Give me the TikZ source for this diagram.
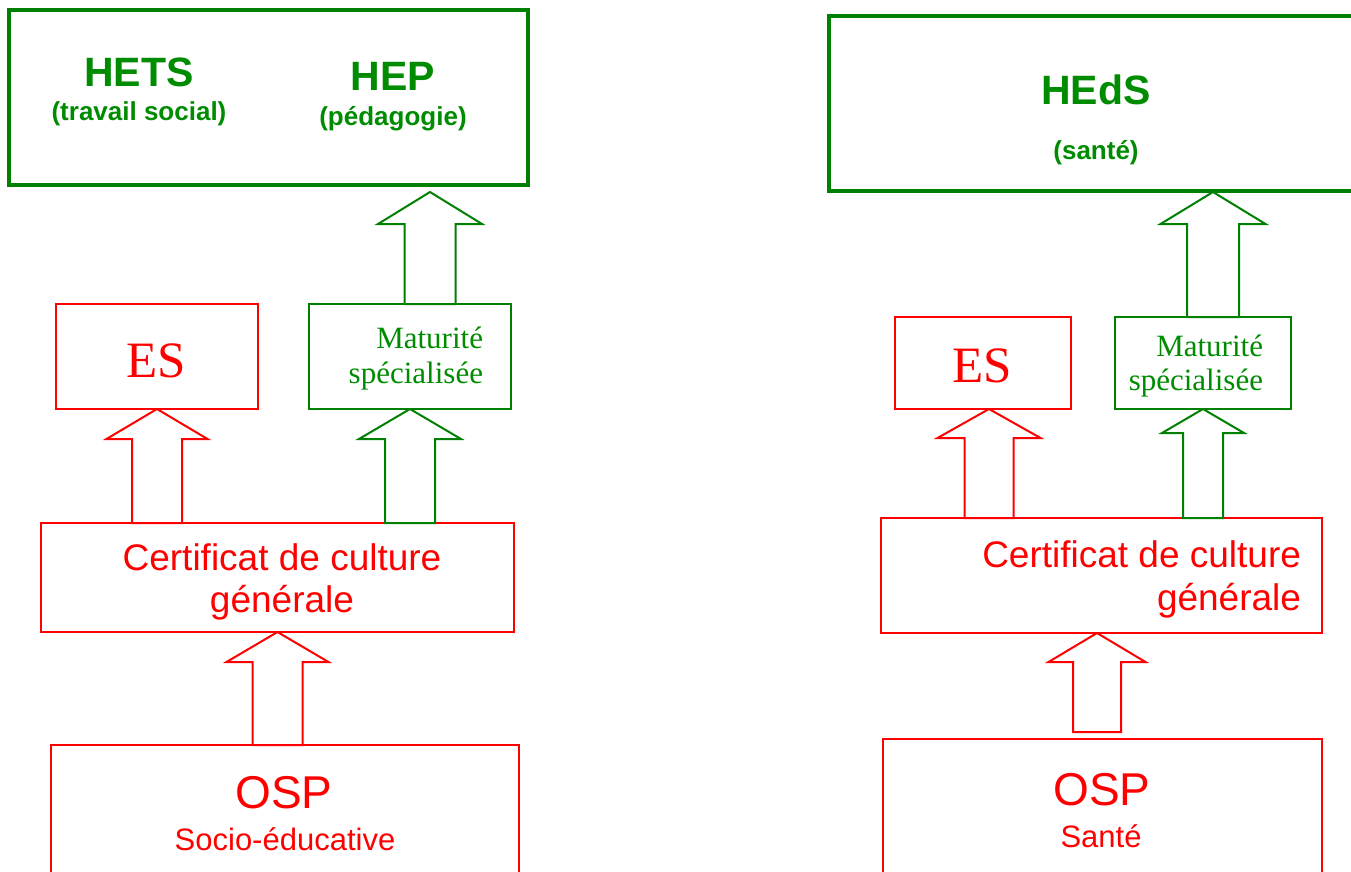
\documentclass[tikz,border=0pt]{standalone}
\usepackage{fontspec}
\setmainfont{Liberation Serif}
\setsansfont{Liberation Sans}
\usetikzlibrary{calc}
\definecolor{boxred}{RGB}{255,0,0}
\definecolor{boxgreen}{RGB}{0,128,0}
\definecolor{txtgreen}{RGB}{0,140,0}
\tikzset{
  box/.style={rectangle, inner sep=0pt, outer sep=0pt, draw},
  redbox/.style={box, draw=boxred, line width=2pt},
  greenbox/.style={box, draw=boxgreen, line width=2pt},
  topbox/.style={box, draw=boxgreen, line width=4pt},
  redarrow/.style={draw=boxred, line width=2pt, fill=white, line join=miter},
  greenarrow/.style={draw=boxgreen, line width=2pt, fill=white, line join=miter},
  lbl/.style={inner sep=0pt, outer sep=0pt, anchor=base},
  lble/.style={inner sep=0pt, outer sep=0pt, anchor=base east},
}
% #1 style, #2 bottom point, #3 tip point, #4 shaft half width, #5 head half width, #6 head length
\newcommand\blockarr[6]{%
  \draw[#1] let \p1=#2, \p2=#3 in
    (\x2-#4pt,\y1) -- (\x2-#4pt,\y2-#6pt) -- (\x2-#5pt,\y2-#6pt) -- (\x2,\y2)
    -- (\x2+#5pt,\y2-#6pt) -- (\x2+#4pt,\y2-#6pt) -- (\x2+#4pt,\y1) -- cycle;}
\begin{document}
\begin{tikzpicture}[x=1pt,y=-1pt]
\useasboundingbox (0,0) rectangle (1351,872);
\clip (0,0) rectangle (1351,872);
\fill[white] (0,0) rectangle (1351,872);

% boxes
\node[topbox, minimum width=519pt, minimum height=175pt] (topL) at (268.5,97.5) {};
\node[topbox, minimum width=600pt, minimum height=175pt] (topR) at (1129,103.5) {};
\node[redbox, minimum width=202pt, minimum height=105pt] (esL) at (157,356.5) {};
\node[greenbox, minimum width=202pt, minimum height=105pt] (matL) at (410,356.5) {};
\node[redbox, minimum width=473pt, minimum height=109pt] (ccgL) at (277.5,577.5) {};
\node[redbox, minimum width=468pt, minimum height=155pt] (ospL) at (285,822.5) {};
\node[redbox, minimum width=176pt, minimum height=92pt] (esR) at (983,363) {};
\node[greenbox, minimum width=176pt, minimum height=92pt] (matR) at (1203,363) {};
\node[redbox, minimum width=441pt, minimum height=115pt] (ccgR) at (1101.5,575.5) {};
\node[redbox, minimum width=439pt, minimum height=161pt] (ospR) at (1102.5,819.5) {};

% arrows, left
\blockarr{redarrow}{(ccgL.north -| esL.south)}{(esL.south)}{25}{50.5}{30}
\blockarr{greenarrow}{(ccgL.north -| matL.south)}{(matL.south)}{25}{51}{30}
\blockarr{greenarrow}{($(matL.north)+(20,0)$)}{($(matL.north |- topL.south)+(20,7)$)}{25.5}{52}{32}
\blockarr{redarrow}{(ospL.north -| ccgL.south)}{(ccgL.south)}{25}{51}{30}
% arrows, right
\blockarr{redarrow}{($(esR.south |- ccgR.north)+(6,0)$)}{($(esR.south)+(6,0)$)}{24.5}{51.5}{29}
\blockarr{greenarrow}{(ccgR.north -| matR.south)}{(matR.south)}{20}{41}{24}
\blockarr{greenarrow}{($(matR.north)+(10,0)$)}{($(matR.north |- topR.south)+(10,1)$)}{26}{52.5}{32}
\blockarr{redarrow}{($(ospR.north)+(-5.5,-7)$)}{($(ccgR.south)+(-4.5,0)$)}{24}{48.5}{29}

% texts, top
\node[lbl, text=txtgreen, font=\sffamily\bfseries\fontsize{41}{49}\selectfont] (hets) at (139,87) {HETS};
\node[lbl, text=txtgreen, font=\sffamily\bfseries\fontsize{26}{31}\selectfont] (hetsb) at (139,121) {(travail social)};
\node[lbl, text=txtgreen, font=\sffamily\bfseries\fontsize{41}{49}\selectfont] (hep) at (393,91) {HEP};
\node[lbl, text=txtgreen, font=\sffamily\bfseries\fontsize{26}{31}\selectfont] (hepb) at (393,126) {(pédagogie)};
\node[lbl, text=txtgreen, font=\sffamily\bfseries\fontsize{41}{49}\selectfont] (heds) at (1096,105) {HEdS};
\node[lbl, text=txtgreen, font=\sffamily\bfseries\fontsize{26}{31}\selectfont] (hedsb) at (1096,159) {(santé)};

% ES / Maturité
\node[lbl, text=boxred, font=\rmfamily\fontsize{51}{60}\selectfont] (esLt) at (156,377) {ES};
\node[lbl, text=boxred, font=\rmfamily\fontsize{51}{60}\selectfont] (esRt) at (982,382) {ES};
\node[lble, text=txtgreen, font=\rmfamily\fontsize{31}{36}\selectfont] (matLa) at (483,348) {Maturité};
\node[lble, text=txtgreen, font=\rmfamily\fontsize{31}{36}\selectfont] (matLb) at (483,383) {spécialisée};
\node[lble, text=txtgreen, font=\rmfamily\fontsize{31}{36}\selectfont] (matRa) at (1263,356) {Maturité};
\node[lble, text=txtgreen, font=\rmfamily\fontsize{31}{36}\selectfont] (matRb) at (1263,390) {spécialisée};

% CCG
\node[lbl, text=boxred, font=\sffamily\fontsize{37}{42}\selectfont] (ccgLa) at (282,570) {Certificat de culture};
\node[lbl, text=boxred, font=\sffamily\fontsize{37}{42}\selectfont] (ccgLb) at (282,612) {générale};
\node[lble, text=boxred, font=\sffamily\fontsize{37}{42}\selectfont] (ccgRa) at (1301,567) {Certificat de culture};
\node[lble, text=boxred, font=\sffamily\fontsize{37}{42}\selectfont] (ccgRb) at (1301,610) {générale};

% OSP
\node[lbl, text=boxred, font=\sffamily\fontsize{46}{54}\selectfont] (ospLa) at (284,808) {OSP};
\node[lbl, text=boxred, font=\sffamily\fontsize{31}{36}\selectfont] (ospLb) at (285,850) {Socio-éducative};
\node[lbl, text=boxred, font=\sffamily\fontsize{46}{54}\selectfont] (ospRa) at (1102,805) {OSP};
\node[lbl, text=boxred, font=\sffamily\fontsize{31}{36}\selectfont] (ospRb) at (1101,847) {Santé};
\end{tikzpicture}
\end{document}
